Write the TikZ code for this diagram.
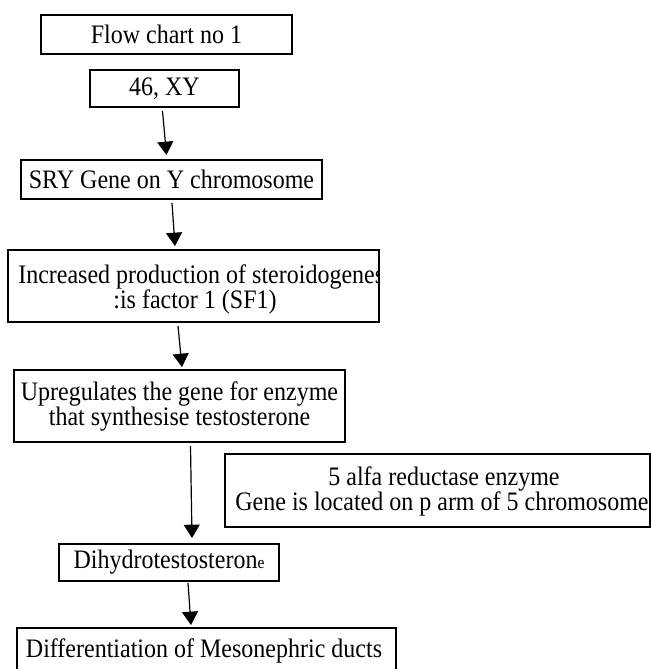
\documentclass[tikz,border=0pt]{standalone}
\usepackage{fontspec}
\setmainfont[FakeStretch=0.9]{Liberation Serif}
\usetikzlibrary{arrows.meta}
\begin{document}
\begin{tikzpicture}[x=0.75pt,y=-0.75pt,
  box/.style={draw,line width=1.1pt,rectangle,inner sep=0pt,align=center,
    font=\fontsize{20}{18.75}\selectfont},
  txt/.style={inner sep=0pt,font=\fontsize{20}{18.75}\selectfont},
  arr/.style={line width=0.9pt,-{Triangle[width=12pt,length=10pt]}}]
\useasboundingbox (0,0) rectangle (651,669);
% boxes
\node[box,minimum width=188.25pt,minimum height=29.25pt] (title) at (166.5,34.5) {Flow chart no 1};
\node[box,minimum width=111.75pt,minimum height=27.75pt] (xy) at (164.5,88.5) {46, XY};
\node[box,minimum width=225.75pt,minimum height=29.25pt] (sry) at (171.5,179.5) {SRY Gene on Y chromosome};
\node[box,minimum width=278.25pt,minimum height=54pt] (inc) at (193.5,286) {};
\begin{scope}
\clip (inc.south west) rectangle (inc.north east);
\node[txt,anchor=base west] (inc1) at (18,283) {Increased production of steroidogenes};
\end{scope}
\node[txt,anchor=base] (inc2) at (195,308) {:is factor 1 (SF1)};
\node[box,minimum width=248.25pt,minimum height=54pt] (up) at (179.5,406) {Upregulates the gene for enzyme\\ that synthesise testosterone};
\node[box,minimum width=318.75pt,minimum height=54.75pt] (alfa) at (437.5,490.5) {};
\node[txt,anchor=base] (alfa1) at (444,485) {5 alfa reductase enzyme};
\node[txt,anchor=base] (alfa2) at (442,510) {Gene is located on p arm of 5 chromosome};
\node[box,minimum width=165pt,minimum height=27.75pt] (dht) at (169,562.5) {Dihydrotestosteron{\fontsize{13}{13}\selectfont e}};
\node[box,minimum width=284.25pt,minimum height=45pt] (diff) at (206.5,658) {};
\node[txt,anchor=base] (diff1) at (204,657) {Differentiation of Mesonephric ducts};
% arrow end points
\coordinate (a1s) at (162.5,111);
\coordinate (a1e) at (166.5,155);
\coordinate (a2s) at (172,203);
\coordinate (a2e) at (175,246);
\coordinate (a3s) at (178,326);
\coordinate (a3e) at (182,367);
\coordinate (a4s) at (190.5,446);
\coordinate (a4e) at (192,538);
\coordinate (a5s) at (188,583);
\coordinate (a5e) at (191,625);
\draw[arr] (a1s) -- (a1e);
\draw[arr] (a2s) -- (a2e);
\draw[arr] (a3s) -- (a3e);
\draw[arr] (a4s) -- (a4e);
\draw[arr] (a5s) -- (a5e);
\end{tikzpicture}
\end{document}
